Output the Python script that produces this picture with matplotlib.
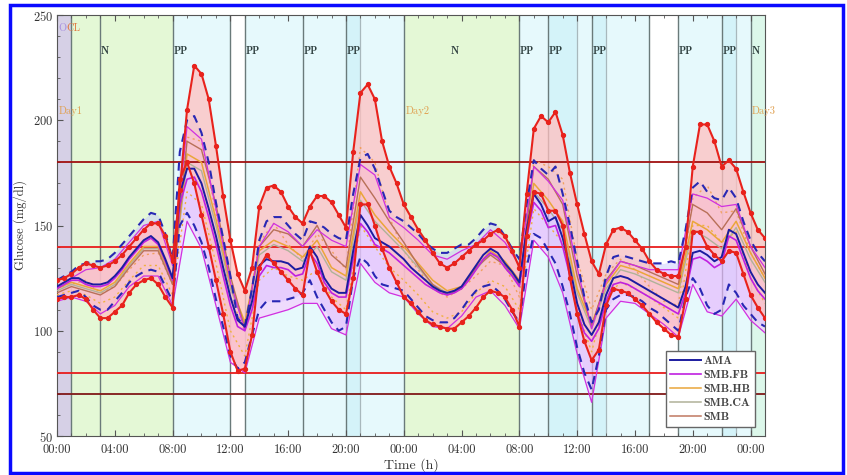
import numpy as np
import matplotlib
matplotlib.use('Agg')
import matplotlib.pyplot as plt
from matplotlib.patches import Rectangle
from matplotlib.lines import Line2D
from matplotlib.ticker import MultipleLocator, FixedLocator

plt.rcParams['font.family'] = ['cmr10', 'DejaVu Serif']
plt.rcParams['axes.formatter.use_mathtext'] = True

# ---------------- data ----------------
t_fine = np.arange(0, 49.01, 0.5)     # hours, 30-min samples
t_coarse = np.arange(0, 50, 1)        # hours, 60-min samples

smb_upper = [124,125,127,130,132,131,130,131,133,136,140,144,148,151,151,145,133,167,205,226,222,210,188,164,143,127,119,130,159,168,169,166,159,154,151,159,164,164,161,155,149,185,213,217,210,190,178,170,160,154,148,143,137,132,130,132,135,138,141,143,146,148,145,138,130,165,196,202,199,204,193,175,160,146,133,127,141,148,149,147,143,139,133,129,127,126,126,140,178,198,198,190,178,181,177,166,156,148,144]
smb_lower = [115,116,116,117,115,110,106,106,109,112,118,122,124,125,122,116,111,172,180,170,155,140,124,108,90,81,82,98,130,136,132,128,124,120,117,138,128,120,114,110,108,125,160,160,150,139,130,123,116,113,109,105,103,102,101,101,104,107,111,116,119,118,116,110,102,145,166,165,157,157,150,125,108,95,86,91,112,120,119,118,115,112,108,104,101,98,97,115,147,147,140,136,133,138,137,127,117,111,106]
ama_mean = [121,123,125,125,123,122,122,123,126,130,135,139,143,145,142,134,125,165,177,177,170,158,145,130,116,105,102,114,131,134,133,133,132,129,130,140,135,125,120,118,118,138,155,150,144,142,140,137,134,130,127,124,121,119,118,119,121,126,131,136,139,137,132,128,123,148,165,160,152,154,144,130,113,103,98,104,117,125,126,125,123,121,119,117,115,113,111,121,137,138,136,133,135,148,146,137,128,122,118]
ama_upper = [124,126,128,131,132,133,133,134,137,141,145,149,153,156,155,146,134,185,200,202,194,180,161,144,126,106,102,120,143,152,154,154,150,146,143,152,151,149,146,144,143,165,182,184,177,167,157,154,152,149,146,142,139,137,137,139,141,141,144,148,151,150,145,139,134,160,181,177,174,178,165,150,133,116,104,110,126,135,136,135,134,133,132,132,132,133,132,148,168,171,166,163,162,168,163,152,143,137,133]
ama_lower = [116,117,118,119,116,112,110,110,114,118,123,126,128,129,128,121,114,150,156,150,142,130,115,102,88,82,85,98,110,114,114,114,115,116,118,124,116,110,104,100,102,125,135,132,126,122,121,120,119,115,111,107,105,104,104,106,110,115,119,121,122,119,115,109,104,130,146,144,138,132,121,108,92,80,72,88,110,115,117,117,116,114,111,109,106,103,100,116,125,120,112,108,110,122,118,112,108,104,102]

fb_mean = [120,122,124,124,122,121,121,122,125,129,134,138,142,144,141,133,124,160,172,173,166,154,141,126,112,102,100,110,126,131,130,130,129,126,127,137,132,123,118,116,116,134,151,147,141,139,137,134,131,128,125,122,120,118,117,118,120,124,129,134,137,135,130,126,121,144,161,157,149,150,140,126,109,99,95,101,114,122,123,122,120,118,116,114,112,110,108,118,134,135,133,130,132,145,143,134,125,119,115]
fb_upper = [121,125,129,130,134,142,150,152,131,197,191,158,123,100,140,151,147,140,148,143,140,179,174,154,149,143,136,134,138,141,148,142,131,178,171,162,130,101,123,133,131,129,129,129,165,163,159,160,140,130]
fb_lower = [114,116,114,108,112,121,126,126,112,152,139,112,85,80,106,108,110,113,113,101,98,132,123,118,116,108,102,101,107,116,119,112,101,143,135,118,89,66,106,114,113,108,103,97,122,109,107,115,105,99]
hb_mean = [120,123,121,119,123,132,140,140,124,184,180,153,122,104,138,143,140,135,143,130,126,166,155,147,140,132,124,119,121,130,138,133,124,170,162,152,120,103,122,131,129,126,123,120,152,148,142,152,137,125]
hb_upper = [120,122,124,118,121,129,136,137,122,192,190,156,116,100,142,151,141,134,146,138,129,187,180,154,138,129,120,116,120,126,133,131,116,181,178,172,134,110,127,134,129,121,114,112,163,169,156,157,137,125]
hb_lower = [117,119,117,113,116,124,131,131,117,166,160,132,100,88,124,130,126,124,129,116,110,150,140,130,124,117,109,106,109,118,124,121,110,158,150,142,110,90,116,123,120,116,111,106,150,150,142,147,125,113]
ca_mean = [119,122,120,118,122,131,139,139,123,180,176,150,120,103,136,141,138,133,140,128,124,162,152,145,138,130,122,118,120,129,137,132,123,166,158,148,118,101,120,129,127,124,121,118,148,144,139,149,134,123]
smb_mean = [118,121,119,117,121,130,138,138,122,190,186,160,126,101,140,148,146,140,150,136,130,173,163,152,142,131,122,117,120,130,136,131,122,178,172,160,126,102,124,133,131,128,125,122,160,156,148,158,140,127]

# background periods (start h, end h, kind)
span_start = [0, 1, 8, 13, 20, 21, 24, 32, 34, 36, 37, 38, 43, 46, 47, 48]
span_end   = [1, 8, 12, 20, 21, 24, 32, 34, 36, 37, 38, 41, 46, 47, 48, 49]
span_kind  = ['ocl', 'n', 'pp', 'pp', 'pp2', 'pp', 'n', 'pp', 'pp2', 'pp', 'pp2', 'pp', 'pp', 'pp2', 'pp', 'n2']
dark_lines = [1, 3, 8, 12, 13, 17, 20, 24, 32, 34, 37, 41, 43, 46, 48]
light_lines = [21, 36, 38, 47]
event_x = [3, 8, 13, 17, 20, 27.2, 32, 34, 37, 43, 46, 48]
event_lbl = ['N', 'PP', 'PP', 'PP', 'PP', 'N', 'PP', 'PP', 'PP', 'PP', 'PP', 'N']
day_x = [0, 24, 48]
day_lbl = ['Day1', 'Day2', 'Day3']
thresholds = [180, 140, 80, 70]
xtick_hours = list(range(0, 49, 4))
xtick_lbl = ['00:00', '04:00', '08:00', '12:00', '16:00', '20:00',
             '00:00', '04:00', '08:00', '12:00', '16:00', '20:00', '00:00']

# ---------------- figure ----------------
fig = plt.figure(figsize=(8.47, 4.75), dpi=100)
ax = fig.add_axes([57/847, 39/475, 708/847, 421/475])

span_col = {'ocl': '#d6d0e6', 'n': '#e4f8d6', 'pp': '#e6f9fc', 'pp2': '#d4f3f9', 'n2': '#dcf7ea'}
for s, e, k in zip(span_start, span_end, span_kind):
    ax.axvspan(s, e, color=span_col[k], lw=0, zorder=0)
for x in dark_lines:
    ax.axvline(x, color='#6a7a7a', lw=1.0, zorder=1)
for x in light_lines:
    ax.axvline(x, color='#a8b8bc', lw=0.9, zorder=1)

# bands
ax.fill_between(t_fine, ama_lower, ama_upper, color='#c4c4ff', alpha=0.45, lw=0, zorder=2)
ax.fill_between(t_coarse, fb_lower, fb_upper, color='#ffb0ff', alpha=0.40, lw=0, zorder=2)
ax.fill_between(t_fine, smb_lower, smb_upper, color='#ffc0c0', alpha=0.75, lw=0, zorder=2)

hcol = {180: '#a01010', 140: '#e81c1c', 80: '#e81c1c', 70: '#801818'}
for y in thresholds:
    ax.axhline(y, color=hcol[y], lw=1.3, zorder=3)

# inner lines
ax.plot(t_coarse, hb_upper, color='#f0a060', lw=1.0, ls=(0, (1.5, 2.5)), zorder=4)
ax.plot(t_coarse, hb_lower, color='#f0b040', lw=1.0, ls=(0, (1.5, 2.5)), zorder=4)
ax.plot(t_coarse, ca_mean, color='#b0b298', lw=1.0, zorder=4)
ax.plot(t_coarse, hb_mean, color='#eaa63a', lw=1.1, zorder=4)
ax.plot(t_coarse, smb_mean, color='#b87058', lw=1.0, zorder=4)
ax.plot(t_coarse, fb_upper, color='#d030e0', lw=0.9, zorder=5)
ax.plot(t_coarse, fb_lower, color='#d030e0', lw=0.9, zorder=5)
ax.plot(t_fine, fb_mean, color='#c020e0', lw=1.2, zorder=5)
ax.plot(t_fine, ama_upper, color='#2828b4', lw=1.5, ls=(0, (4, 3)), zorder=6)
ax.plot(t_fine, ama_lower, color='#2828b4', lw=1.5, ls=(0, (4, 3)), zorder=6)
ax.plot(t_fine, ama_mean, color='#1c1ca0', lw=1.4, zorder=6)
ax.plot(t_fine, smb_upper, color='#e8221c', lw=1.5, marker='o', ms=2.8, zorder=7)
ax.plot(t_fine, smb_lower, color='#e8221c', lw=1.5, marker='o', ms=2.8, zorder=7)

# labels
for x, lbl in zip(event_x, event_lbl):
    ax.text(x + 0.05, 233, lbl, family=['cmb10', 'DejaVu Serif'], fontsize=7.5,
            color='#2f4040', ha='left', va='center', zorder=9)
for x, lbl in zip(day_x, day_lbl):
    ax.text(x + 0.1, 204.5, lbl, fontsize=7.5, color='#e0a050',
            ha='left', va='center', zorder=9)
ax.text(0.1, 243.5, 'O', fontsize=7.5, color='#a890e0', ha='left', va='center', zorder=9)
ax.text(0.62, 243.5, 'CL', fontsize=7.5, color='#e07840', ha='left', va='center', zorder=9)

ax.set_xlim(0, 49)
ax.set_ylim(50, 250)
ax.xaxis.set_major_locator(FixedLocator(xtick_hours))
ax.set_xticklabels(xtick_lbl)
ax.xaxis.set_minor_locator(MultipleLocator(1))
ax.yaxis.set_major_locator(MultipleLocator(50))
ax.yaxis.set_minor_locator(MultipleLocator(10))
ax.tick_params(which='both', direction='in', top=True, right=False, color='#555555',
               labelsize=9, labelcolor='#333333')
ax.tick_params(axis='x', which='major', length=4, pad=6)
ax.tick_params(axis='y', which='major', length=4, pad=3)
ax.tick_params(which='minor', length=2)
for sp in ax.spines.values():
    sp.set_color('#555555')
    sp.set_linewidth(0.8)
ax.set_xlabel('Time (h)', fontsize=10, color='#333333', labelpad=1)
ax.set_ylabel('Glucose (mg/dl)', fontsize=9, color='#333333', labelpad=4)

handles = [Line2D([], [], color='#1c1ca0', lw=1.4),
           Line2D([], [], color='#c020e0', lw=1.2),
           Line2D([], [], color='#eaa63a', lw=1.1),
           Line2D([], [], color='#b0b298', lw=1.1),
           Line2D([], [], color='#c07860', lw=1.1)]
leg = ax.legend(handles, ['AMA', 'SMB.FB', 'SMB.HB', 'SMB.CA', 'SMB'],
                loc='lower right', bbox_to_anchor=(0.986, 0.021), borderaxespad=0,
                prop={'family': ['cmb10', 'DejaVu Serif'], 'size': 8.5},
                handlelength=2.6, handletextpad=0.2, labelspacing=0.32,
                borderpad=0.4, fancybox=False, framealpha=1, edgecolor='#666666')
leg.set_zorder(10)
for txt in leg.get_texts():
    txt.set_color('#444444')

fig.patches.append(Rectangle((10/847, 2/475), 833/847, 468/475, transform=fig.transFigure,
                             fill=False, edgecolor='#0a0aff', lw=2.5))

fig.savefig('out.png', dpi=100)
